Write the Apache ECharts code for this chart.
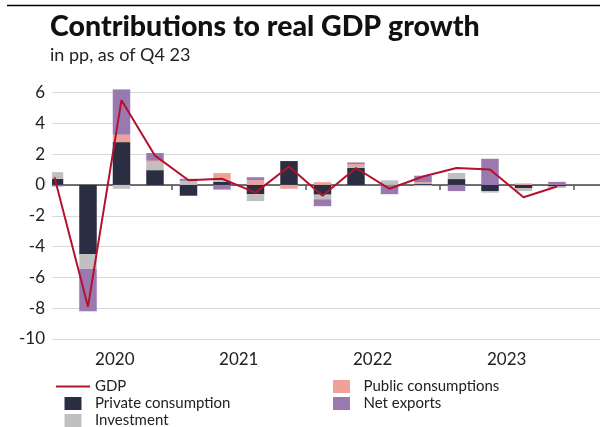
<!DOCTYPE html>
<html>
<head>
<meta charset="utf-8">
<script src="https://cdn.jsdelivr.net/npm/echarts@6/dist/echarts.min.js"></script>
<style>
  html, body { margin: 0; padding: 0; background: #fff; }
  #chart { width: 600px; height: 427px; }
</style>
</head>
<body>
<div id="chart"></div>
<script>
// quarters Q1 2020 .. Q4 2023
var quarters = ['Q1 20', 'Q2 20', 'Q3 20', 'Q4 20', 'Q1 21', 'Q2 21', 'Q3 21', 'Q4 21',
                'Q1 22', 'Q2 22', 'Q3 22', 'Q4 22', 'Q1 23', 'Q2 23', 'Q3 23', 'Q4 23'];
var years = ['2020', '2021', '2022', '2023'];

var gdp        = [0.5, -7.9, 5.5, 1.9, 0.3, 0.4, -0.5, 1.2, -0.7, 1.1, -0.25, 0.55, 1.1, 1.0, -0.8, -0.1];
var privateCons = [0.4, -4.5, 2.78, 0.96, -0.7, 0.2, -0.6, 1.55, -0.63, 1.1, 0, 0.08, 0.38, -0.4, -0.2, -0.1];
var investment = [0.43, -0.95, -0.25, 0.48, 0.27, 0.17, -0.45, 0, -0.3, 0.13, 0.3, -0.08, 0.4, -0.1, -0.2, -0.1];
var publicCons = [0, 0, 0.48, 0.13, 0, 0.4, 0.3, -0.25, 0.18, 0.13, 0, 0.1, 0, 0, 0.1, 0];
var netExports = [-0.1, -2.75, 2.94, 0.5, 0.13, -0.3, 0.2, 0, -0.45, 0.1, -0.6, 0.42, -0.4, 1.7, 0, 0.2];

// positions in quarter units (0 = first quarter) for the year labels and year ticks
var yearPos = [1.8, 5.5, 9.5, 13.5];
var yearEdges = [3.5, 7.5, 11.5, 15.5];

var chart = echarts.init(document.getElementById('chart'));
var font = 'Lato';
var sq = 'path://M0,0H17V13H0Z';
var plotTop = 84.8, plotBottom = 88;

function barSeries(name, data, color) {
    return {
        name: name,
        type: 'bar',
        stack: 'contrib',
        xAxisIndex: 2,
        yAxisIndex: 1,
        barWidth: 17.5,
        data: data,
        itemStyle: { color: color },
        emphasis: { disabled: true }
    };
}

var legendBase = {
    top: 379,
    height: 60,
    padding: 0,
    orient: 'vertical',
    itemWidth: 34,
    itemHeight: 13,
    itemGap: 2,
    textStyle: { fontFamily: font, fontSize: 15, color: '#222', lineHeight: 13 }
};

var option = {
    animation: false,
    textStyle: { fontFamily: font },
    title: {
        text: 'Contributions to real GDP growth',
        subtext: 'in pp, as of Q4 23',
        left: 45,
        top: 6,
        itemGap: 2,
        textStyle: { fontFamily: font, fontSize: 28.5, fontWeight: 900, color: '#111', lineHeight: 32 },
        subtextStyle: { fontFamily: font, fontSize: 18, color: '#222', lineHeight: 20 }
    },
    graphic: [{
        type: 'line',
        shape: { x1: 7, y1: 5.5, x2: 600, y2: 5.5 },
        style: { stroke: '#000', lineWidth: 1.5 }
    }, {
        // mask: the first quarter is partly outside the plot on the left
        type: 'rect',
        z: 100,
        shape: { x: 45.5, y: 80, width: 6.5, height: 262 },
        style: { fill: '#fff' }
    }],
    legend: [
        Object.assign({}, legendBase, {
            left: 56,
            data: [
                { name: 'GDP', icon: 'path://M0,0H34V2H0Z' },
                { name: 'Private consumption', icon: sq },
                { name: 'Investment', icon: sq }
            ]
        }),
        Object.assign({}, legendBase, {
            left: 333,
            data: [
                { name: 'Public consumptions', icon: sq },
                { name: 'Net exports', icon: sq }
            ]
        })
    ],
    grid: [
        { left: 52, right: 0, top: plotTop, bottom: plotBottom },
        { left: 37.75, right: 26.25, top: plotTop, bottom: plotBottom }
    ],
    xAxis: [{
        gridIndex: 0,
        type: 'value',
        min: -0.075,
        max: 16.285,
        position: 'bottom',
        axisLine: { show: false, onZero: false },
        axisTick: { show: false },
        splitLine: { show: false },
        axisLabel: {
            customValues: yearPos,
            margin: 12,
            fontSize: 17,
            color: '#222',
            fontFamily: font,
            formatter: function (v) {
                var best = 0;
                for (var i = 1; i < yearPos.length; i++) {
                    if (Math.abs(yearPos[i] - v) < Math.abs(yearPos[best] - v)) best = i;
                }
                return years[best];
            }
        }
    }, {
        gridIndex: 0,
        type: 'value',
        min: -0.075,
        max: 16.285,
        position: 'bottom',
        axisLine: { show: true, onZero: true, lineStyle: { color: '#444', width: 1.5 } },
        axisTick: { show: true, customValues: yearEdges, length: 5, lineStyle: { color: '#555', width: 1.5 } },
        splitLine: { show: false },
        axisLabel: { show: false }
    }, {
        gridIndex: 1,
        type: 'category',
        data: quarters,
        show: false
    }],
    yAxis: [{
        gridIndex: 0,
        type: 'value',
        min: -10,
        max: 6.5,
        interval: 2,
        axisLine: { show: false },
        axisTick: { show: false },
        axisLabel: { showMaxLabel: false, margin: 7, fontSize: 17, color: '#222', fontFamily: font },
        splitLine: { show: true, showMaxLine: false, lineStyle: { color: '#d9d9d9', width: 1 } }
    }, {
        gridIndex: 1,
        type: 'value',
        min: -10,
        max: 6.5,
        show: false,
        splitLine: { show: false }
    }],
    series: [
        barSeries('Private consumption', privateCons, '#2b2e42'),
        barSeries('Investment', investment, '#c0c0c0'),
        barSeries('Public consumptions', publicCons, '#f0a198'),
        barSeries('Net exports', netExports, '#9a79b1'),
        {
            name: 'GDP',
            type: 'line',
            xAxisIndex: 2,
            yAxisIndex: 1,
            data: gdp,
            symbol: 'none',
            z: 5,
            lineStyle: { color: '#b3122d', width: 2 },
            itemStyle: { color: '#b3122d' },
            emphasis: { disabled: true }
        }
    ]
};

chart.setOption(option);
</script>
</body>
</html>
